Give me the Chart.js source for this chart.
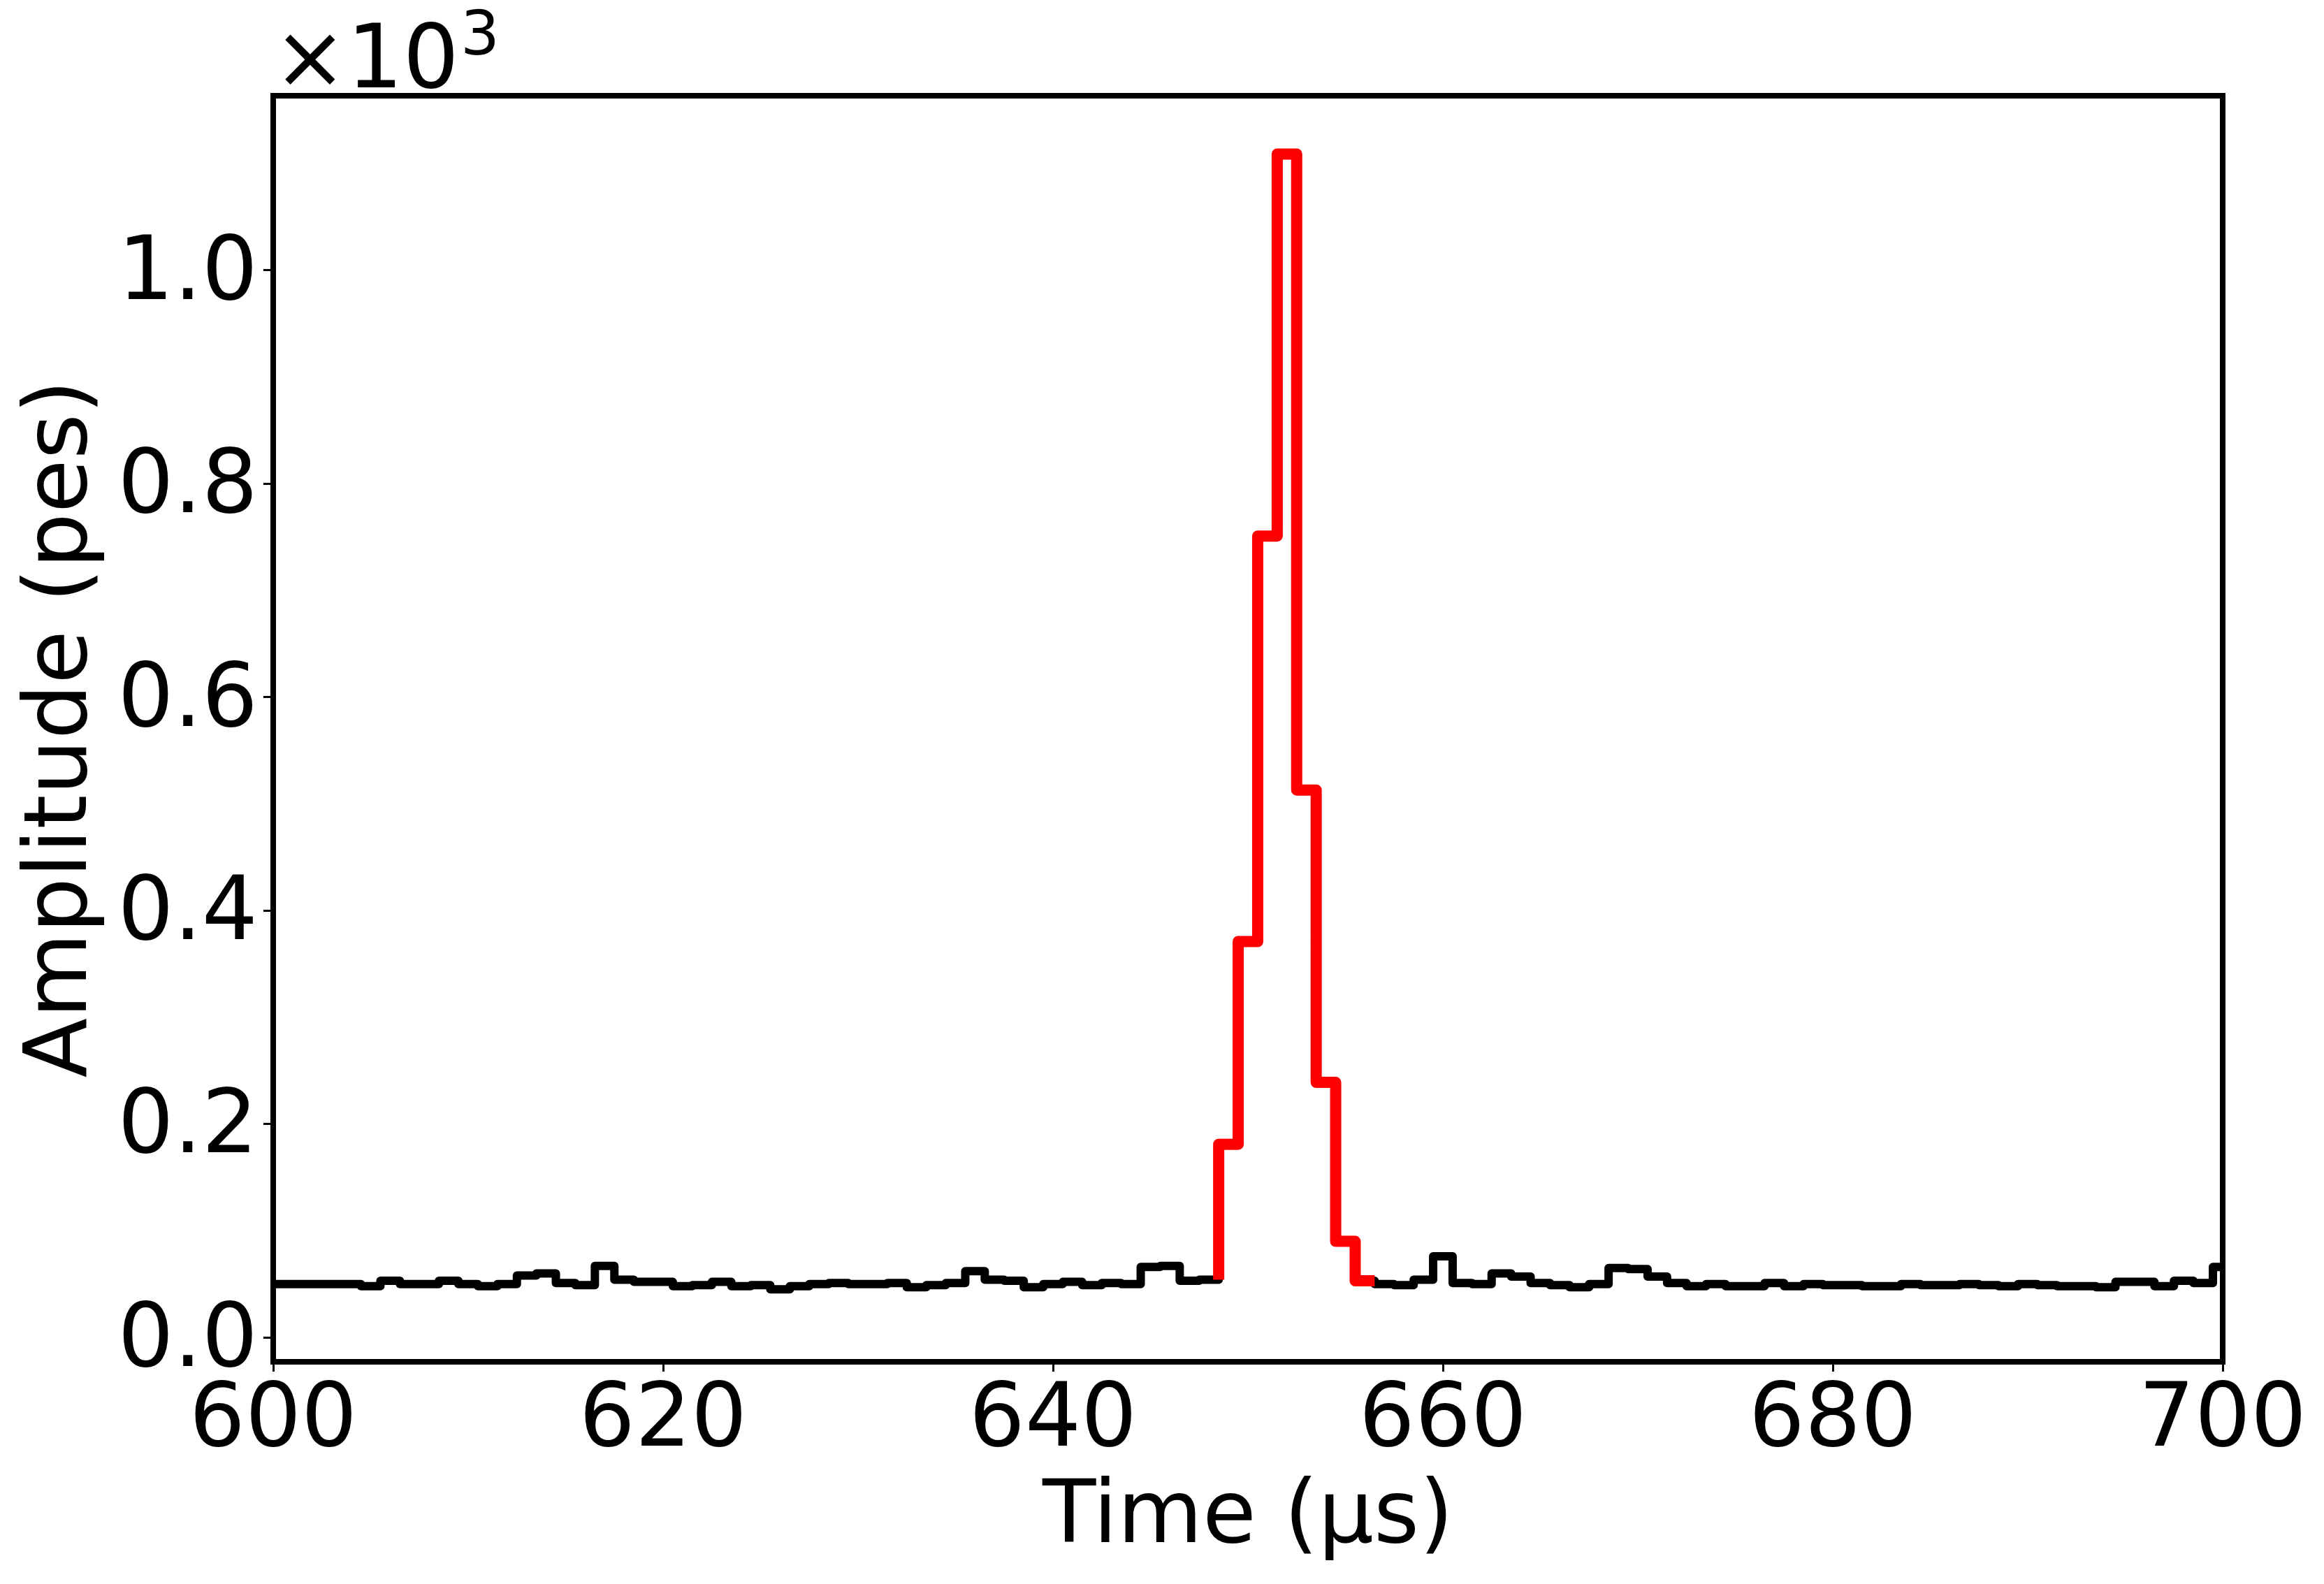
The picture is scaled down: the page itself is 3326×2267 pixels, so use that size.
<!DOCTYPE html>
<html>
<head>
<meta charset="utf-8">
<title>Amplitude vs time</title>
<script src="https://cdn.jsdelivr.net/npm/chart.js@4.4.1/dist/chart.umd.min.js"></script>
<style>
  html, body { margin: 0; padding: 0; background: #fff; }
  canvas { display: block; }
</style>
</head>
<body>
<canvas id="waveform-chart" width="3326" height="2267"></canvas>
<script>
// one sample per microsecond, 600..700 us (values in pes)
const timeStart = 600;
const amplitude = [
  50, 50, 50, 50, 50, 48, 53, 50, 50, 53,
  50, 48, 50, 58, 60, 51, 49, 67, 54, 52,
  52, 48, 49, 52, 48, 49, 45, 48, 50, 51,
  50, 50, 51, 47, 49, 51, 62, 54, 53, 47,
  50, 52, 49, 51, 50, 66, 67, 53, 54, 181,
  371, 751, 1109, 513, 239, 90, 53, 50, 49, 54,
  76, 51, 50, 60, 57, 51, 49, 47, 50, 65,
  64, 57, 51, 48, 50, 48, 48, 51, 48, 50,
  49, 49, 48, 48, 50, 49, 49, 50, 49, 48,
  50, 49, 48, 48, 47, 52, 52, 48, 53, 51,
  66,
];
const peakStart = 648;
const peakEnd = 656;

const xTicks = [600, 620, 640, 660, 680, 700];
const yTicks = [0, 200, 400, 600, 800, 1000];
const yTickLabels = ['0.0', '0.2', '0.4', '0.6', '0.8', '1.0'];

const fontFamily = "'DejaVu Sans', sans-serif";
const tickFont = { family: fontFamily, size: 126, lineHeight: 1 };
const titleFont = { family: fontFamily, size: 125, lineHeight: 1 };

const times = amplitude.map((_, i) => timeStart + i);
const waveformPoints = times.map((t, i) => ({ x: t, y: amplitude[i] }));
// peak drawn with steps on the bin edges
const peakPoints = times
  .map((t, i) => ({ t, x: t + 0.5, y: amplitude[i] }))
  .filter((p) => p.t >= peakStart && p.t <= peakEnd)
  .map((p) => ({ x: p.x, y: p.y }));

const frameAndOffset = {
  id: 'frameAndOffset',
  afterDatasetsDraw(chart) {
    const { ctx, chartArea } = chart;
    ctx.save();
    ctx.lineWidth = 8;
    ctx.strokeStyle = '#000';
    ctx.strokeRect(chartArea.left, chartArea.top, chartArea.right - chartArea.left, chartArea.bottom - chartArea.top);
    ctx.restore();
  },
  afterDraw(chart) {
    const { ctx, chartArea } = chart;
    ctx.save();
    ctx.fillStyle = '#000';
    ctx.textAlign = 'left';
    ctx.textBaseline = 'alphabetic';
    ctx.font = `126px ${fontFamily}`;
    const base = '\u00d710';
    ctx.fillText(base, chartArea.left, 125);
    const w = ctx.measureText(base).width;
    ctx.font = `88px ${fontFamily}`;
    ctx.fillText('3', chartArea.left + w + 2, 78);
    ctx.restore();
  },
};

new Chart(document.getElementById('waveform-chart'), {
  type: 'line',
  data: {
    datasets: [
      {
        label: 'peak',
        data: peakPoints,
        borderColor: '#ff0000',
        borderWidth: 16,
        stepped: 'after',
        pointRadius: 0,
        borderJoinStyle: 'round',
        borderCapStyle: 'butt',
        fill: false,
        order: 0,
      },
      {
        label: 'waveform',
        data: waveformPoints,
        borderColor: '#000000',
        borderWidth: 12,
        stepped: 'middle',
        pointRadius: 0,
        borderJoinStyle: 'round',
        borderCapStyle: 'butt',
        fill: false,
        order: 1,
      },
    ],
  },
  options: {
    responsive: false,
    animation: false,
    layout: { padding: { left: 0, top: 137, right: 145, bottom: 0 } },
    plugins: {
      legend: { display: false },
      tooltip: { enabled: false },
    },
    scales: {
      x: {
        type: 'linear',
        min: 600,
        max: 700,
        afterBuildTicks: (scale) => { scale.ticks = xTicks.map((v) => ({ value: v })); },
        afterFit: (scale) => { scale.height = 318; },
        ticks: {
          color: '#000',
          font: tickFont,
          padding: 10,
          maxRotation: 0,
          autoSkip: false,
          callback: (v) => String(v),
        },
        grid: { drawOnChartArea: false, color: '#000', tickLength: 14, tickWidth: 3 },
        border: { display: false },
        title: {
          display: true,
          text: 'Time (µs)',
          color: '#000',
          font: titleFont,
          padding: { top: 0, bottom: 30 },
        },
      },
      y: {
        type: 'linear',
        min: -22.9,
        max: 1163.7,
        afterBuildTicks: (scale) => { scale.ticks = yTicks.map((v) => ({ value: v })); },
        afterFit: (scale) => { scale.width = 391; },
        ticks: {
          color: '#000',
          font: tickFont,
          padding: 8,
          labelOffset: 8,
          autoSkip: false,
          callback: (v) => yTickLabels[yTicks.indexOf(v)],
        },
        grid: { drawOnChartArea: false, color: '#000', tickLength: 14, tickWidth: 3 },
        border: { display: false },
        title: {
          display: true,
          text: 'Amplitude (pes)',
          color: '#000',
          font: titleFont,
          padding: { top: 28, bottom: 0 },
        },
      },
    },
  },
  plugins: [frameAndOffset],
});
</script>
</body>
</html>
